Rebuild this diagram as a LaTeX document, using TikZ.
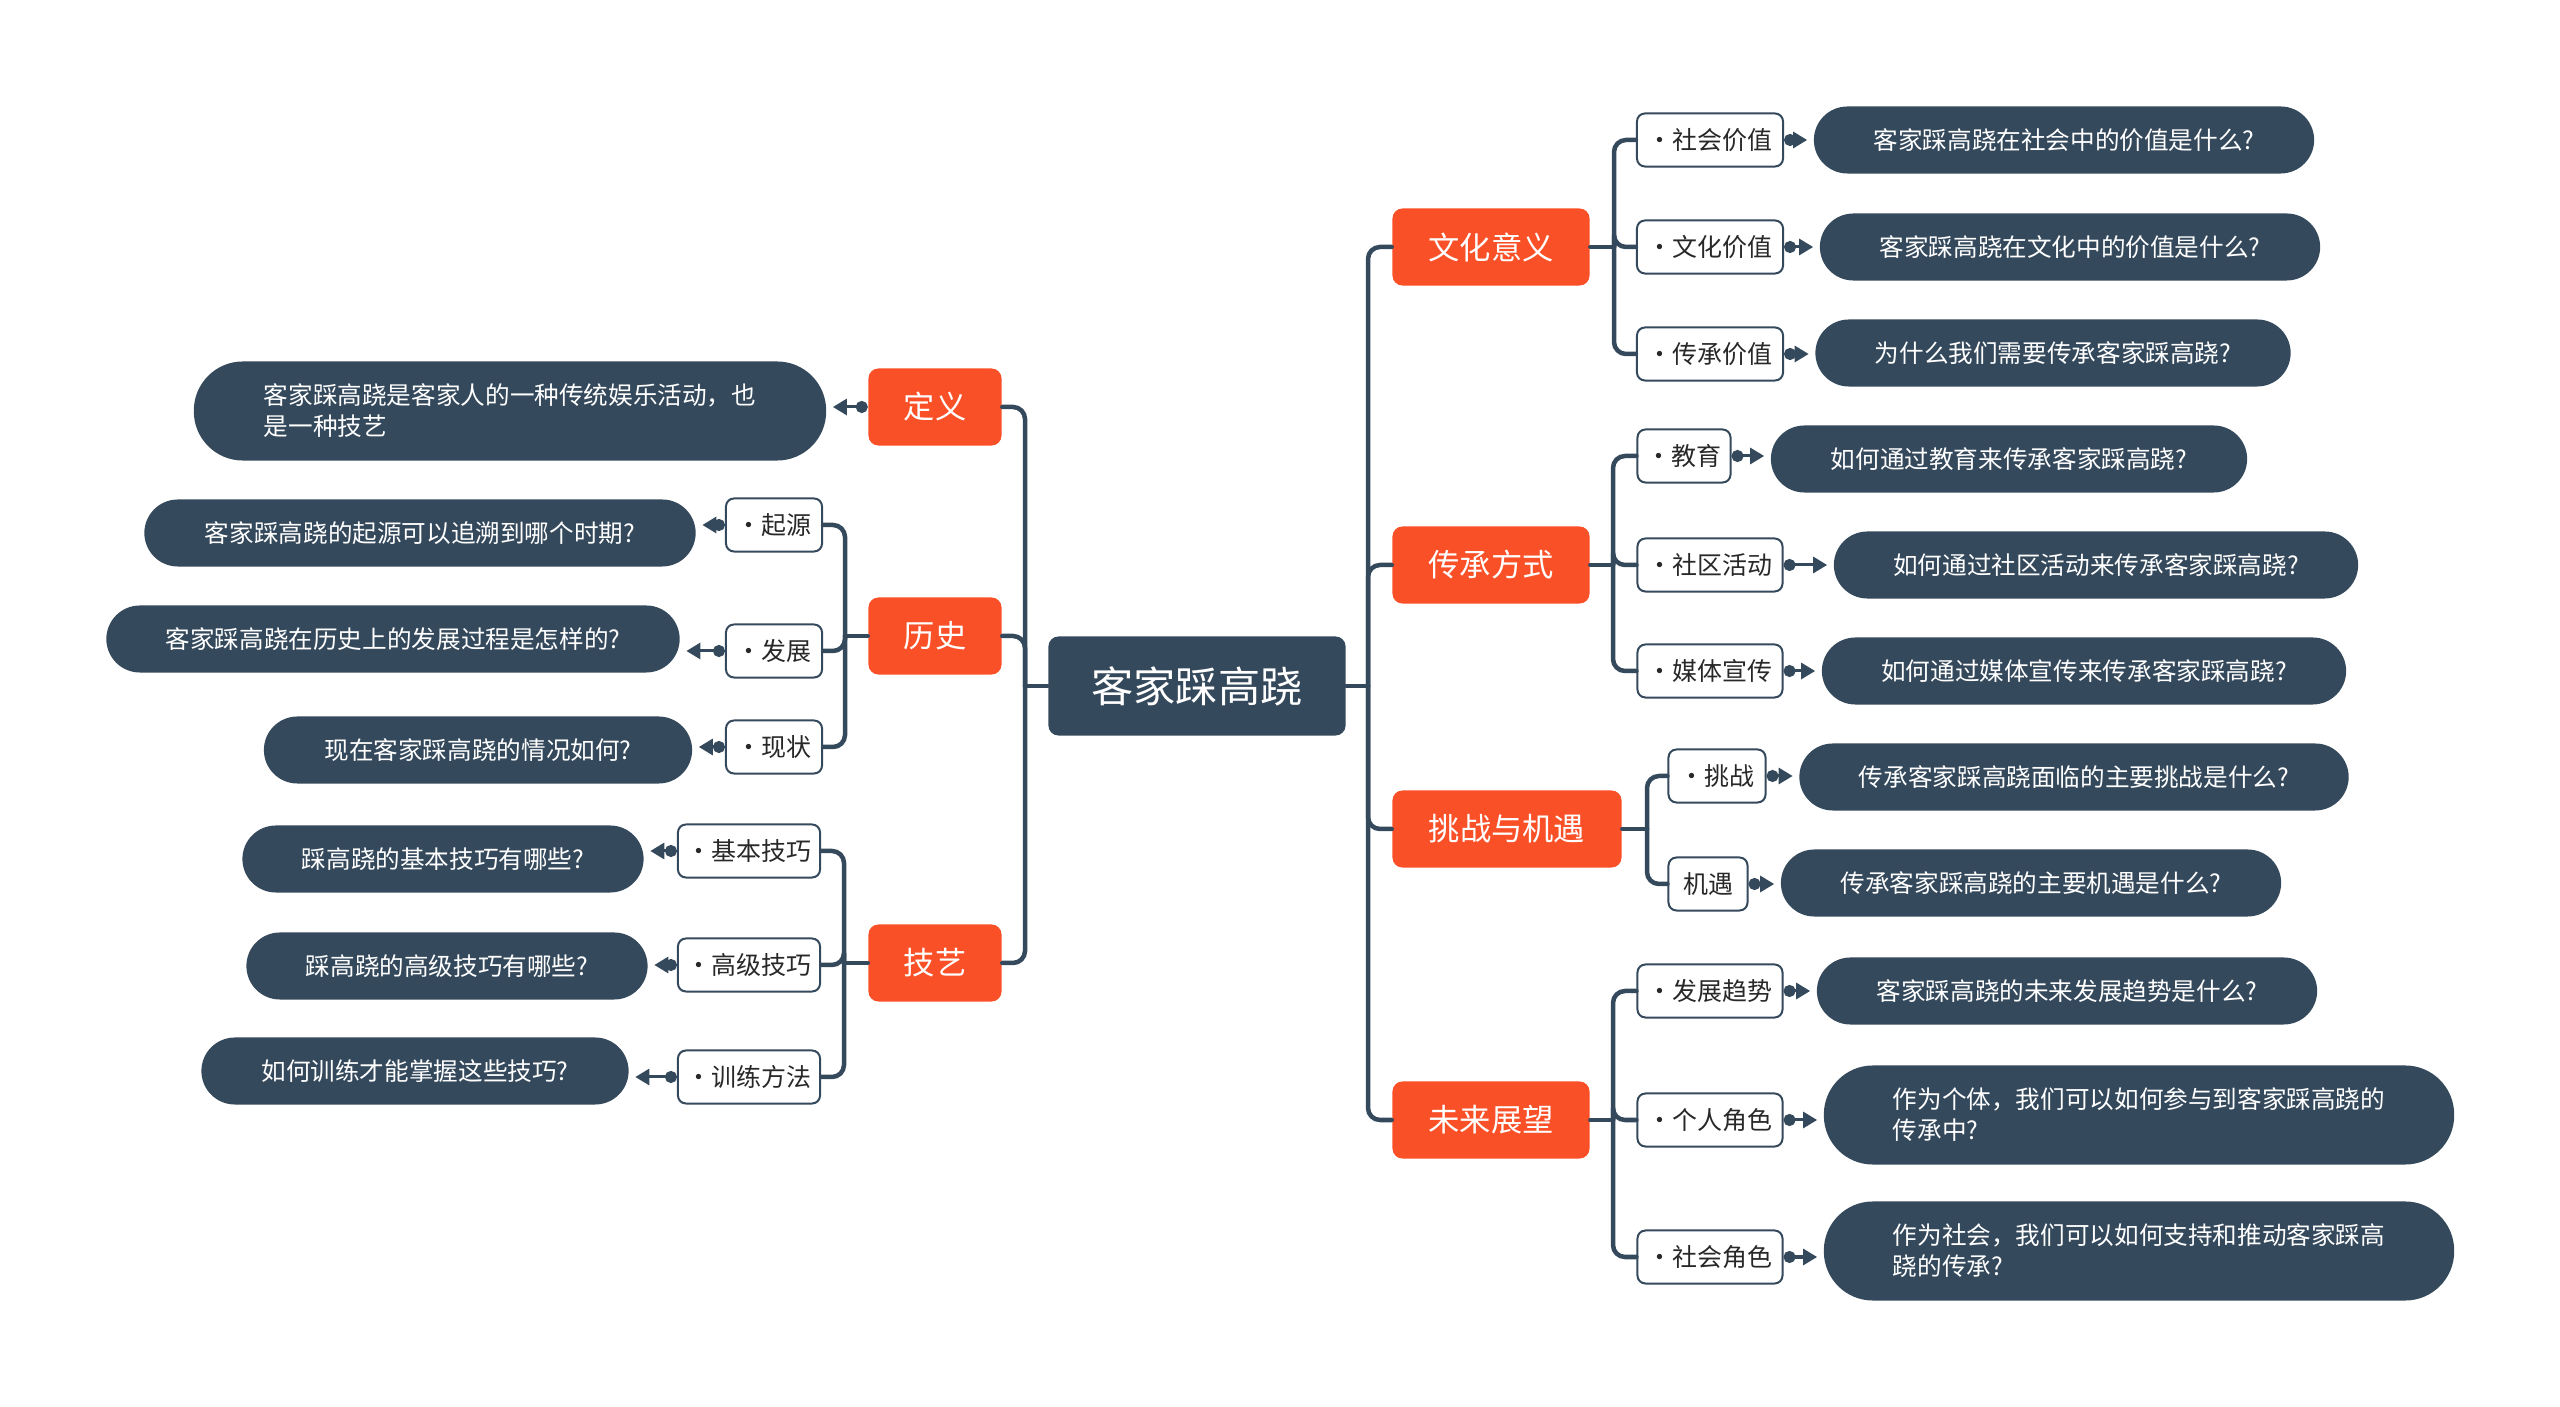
\documentclass[tikz,border=0pt]{standalone}
\usepackage{fontspec}
\setmainfont{Noto Sans CJK SC}
\usetikzlibrary{arrows.meta}
\definecolor{slatec}{RGB}{53,73,92}
\definecolor{flamec}{RGB}{250,80,40}
\definecolor{inkc}{RGB}{40,40,40}

\begin{document}
\begin{tikzpicture}[x=0.01cm, y=-0.01cm, line cap=round,
  root/.style={fill=slatec, text=white, rounded corners=0.1cm, minimum width=2.97cm,
    minimum height=0.99cm, font=\fontsize{12}{14}\selectfont},
  topic/.style={fill=flamec, text=white, rounded corners=0.1cm, minimum height=0.77cm,
    font=\fontsize{8.9}{10}\selectfont},
  sub/.style={draw=slatec, fill=white, text=inkc, line width=0.02cm, rounded corners=0.08cm,
    minimum height=0.53cm, inner xsep=0.08cm, font=\fontsize{7.1}{8}\selectfont},
  leaf/.style={fill=slatec, text=white, rounded corners=0.335cm, minimum height=0.67cm,
    font=\fontsize{7}{8.8}\selectfont, align=center},
  leaf2/.style={leaf, rounded corners=0.49cm, minimum height=0.99cm, align=left},
  link/.style={slatec, line width=0.045cm, rounded corners=0.12cm},
  tip/.style={slatec, line width=0.03cm, shorten >=0.06cm,
    {Circle[length=0.12cm]}-{Triangle[length=0.14cm, width=0.16cm]}},
]
  \useasboundingbox (0,0) rectangle (2560,1407);

  % centre and main topics
  \node[root] (root) at (1197,686) {客家踩高跷};
  \node[topic, minimum width=1.33cm] (def)  at (935,407)  {定义};
  \node[topic, minimum width=1.33cm] (hist) at (935,636)  {历史};
  \node[topic, minimum width=1.33cm] (art)  at (935,963)  {技艺};
  \node[topic, minimum width=1.97cm] (cult) at (1491,247) {文化意义};
  \node[topic, minimum width=1.97cm] (pass) at (1491,565) {传承方式};
  \node[topic, minimum width=2.29cm] (chal) at (1507,829) {挑战与机遇};
  \node[topic, minimum width=1.97cm] (futr) at (1491,1120) {未来展望};

  % trunks
  \coordinate (lj) at (1025,686);
  \coordinate (rj) at (1368,686);
  \draw[link] (root.west) -- (lj);
  \draw[link] (root.east) -- (rj);
  \foreach \t in {def,hist,art} \draw[link] (lj) |- (\t.east);
  \foreach \t in {cult,pass,chal,futr} \draw[link] (rj) |- (\t.west);

  % definition
  \node[leaf2, minimum width=6.32cm] (def-q) at (510,411)
    {客家踩高跷是客家人的一种传统娱乐活动，也\\是一种技艺};
  \draw[tip] (def.west) -- (def.west -| def-q.east);

  % history
  \coordinate (hist-j) at (845,636);
  \node[sub, minimum width=0.96cm] (orig) at (774,525) {•起源};
  \node[sub, minimum width=0.96cm] (devl) at (774,651) {•发展};
  \node[sub, minimum width=0.96cm] (now)  at (774,747) {•现状};
  \draw[link] (hist.west) -- (hist-j);
  \foreach \s in {orig,devl,now} \draw[link] (hist-j) |- (\s.east);
  \node[leaf, minimum width=5.51cm] (orig-q) at (420,533) {客家踩高跷的起源可以追溯到哪个时期?};
  \node[leaf, minimum width=5.73cm] (devl-q) at (393,639) {客家踩高跷在历史上的发展过程是怎样的?};
  \node[leaf, minimum width=4.28cm] (now-q)  at (478,750) {现在客家踩高跷的情况如何?};
  \foreach \s in {orig,devl,now} \draw[tip] (\s.west) -- (\s.west -| \s-q.east);

  % skills
  \coordinate (art-j) at (844,963);
  \node[sub, minimum width=1.42cm] (base) at (749,851)  {•基本技巧};
  \node[sub, minimum width=1.42cm] (high) at (749,965)  {•高级技巧};
  \node[sub, minimum width=1.42cm] (drill) at (749,1077) {•训练方法};
  \draw[link] (art.west) -- (art-j);
  \foreach \s in {base,high,drill} \draw[link] (art-j) |- (\s.east);
  \node[leaf, minimum width=4.01cm] (base-q)  at (443,859)  {踩高跷的基本技巧有哪些?};
  \node[leaf, minimum width=4.01cm] (high-q)  at (447,966)  {踩高跷的高级技巧有哪些?};
  \node[leaf, minimum width=4.27cm] (drill-q) at (415,1071) {如何训练才能掌握这些技巧?};
  \foreach \s in {base,high,drill} \draw[tip] (\s.west) -- (\s.west -| \s-q.east);

  % cultural meaning
  \coordinate (cult-j) at (1614,247);
  \node[sub, minimum width=1.46cm] (soc)  at (1710,140) {•社会价值};
  \node[sub, minimum width=1.46cm] (cul)  at (1710,247) {•文化价值};
  \node[sub, minimum width=1.46cm] (inh)  at (1710,354) {•传承价值};
  \draw[link] (cult.east) -- (cult-j);
  \foreach \s in {soc,cul,inh} \draw[link] (cult-j) |- (\s.west);
  \node[leaf, minimum width=5.00cm] (soc-q) at (2064,140) {客家踩高跷在社会中的价值是什么?};
  \node[leaf, minimum width=5.00cm] (cul-q) at (2070,247) {客家踩高跷在文化中的价值是什么?};
  \node[leaf, minimum width=4.75cm] (inh-q) at (2053,353) {为什么我们需要传承客家踩高跷?};
  \foreach \s in {soc,cul,inh} \draw[tip] (\s.east) -- (\s.east -| \s-q.west);

  % ways of passing on
  \coordinate (pass-j) at (1613,565);
  \node[sub, minimum width=0.93cm] (edu)  at (1684,456) {•教育};
  \node[sub, minimum width=1.45cm] (comm) at (1710,565) {•社区活动};
  \node[sub, minimum width=1.45cm] (media) at (1710,671) {•媒体宣传};
  \draw[link] (pass.east) -- (pass-j);
  \foreach \s in {edu,comm,media} \draw[link] (pass-j) |- (\s.west);
  \node[leaf, minimum width=4.76cm] (edu-q)   at (2009,459) {如何通过教育来传承客家踩高跷?};
  \node[leaf, minimum width=5.24cm] (comm-q)  at (2096,565) {如何通过社区活动来传承客家踩高跷?};
  \node[leaf, minimum width=5.24cm] (media-q) at (2084,671) {如何通过媒体宣传来传承客家踩高跷?};
  \foreach \s in {edu,comm,media} \draw[tip] (\s.east) -- (\s.east -| \s-q.west);

  % challenges and chances
  \coordinate (chal-j) at (1647,829);
  \node[sub, minimum width=0.97cm] (risk) at (1717,776) {•挑战};
  \node[sub, minimum width=0.79cm] (odds) at (1708,884) {机遇};
  \draw[link] (chal.east) -- (chal-j);
  \foreach \s in {risk,odds} \draw[link] (chal-j) |- (\s.west);
  \node[leaf, minimum width=5.49cm] (risk-q) at (2074,777) {传承客家踩高跷面临的主要挑战是什么?};
  \node[leaf, minimum width=5.00cm] (odds-q) at (2031,883) {传承客家踩高跷的主要机遇是什么?};
  \foreach \s in {risk,odds} \draw[tip] (\s.east) -- (\s.east -| \s-q.west);

  % outlook
  \coordinate (futr-j) at (1613,1120);
  \node[sub, minimum width=1.45cm] (trend) at (1710,991)  {•发展趋势};
  \node[sub, minimum width=1.45cm] (self)  at (1710,1120) {•个人角色};
  \node[sub, minimum width=1.45cm] (pub)   at (1710,1257) {•社会角色};
  \draw[link] (futr.east) -- (futr-j);
  \foreach \s in {trend,self,pub} \draw[link] (futr-j) |- (\s.west);
  \node[leaf, minimum width=5.00cm] (trend-q) at (2067,991) {客家踩高跷的未来发展趋势是什么?};
  \node[leaf2, minimum width=6.30cm] (self-q) at (2139,1115)
    {作为个体，我们可以如何参与到客家踩高跷的\\传承中?};
  \node[leaf2, minimum width=6.30cm] (pub-q) at (2139,1251)
    {作为社会，我们可以如何支持和推动客家踩高\\跷的传承?};
  \foreach \s in {trend,self,pub} \draw[tip] (\s.east) -- (\s.east -| \s-q.west);
\end{tikzpicture}
\end{document}
